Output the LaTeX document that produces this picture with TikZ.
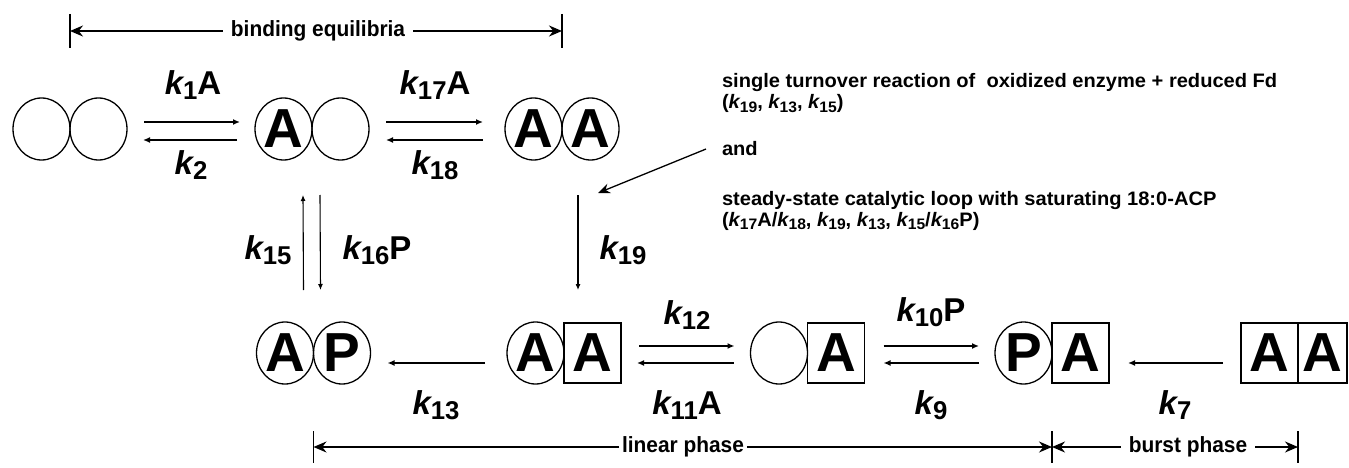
\documentclass[tikz,border=0pt]{standalone}
\usepackage{fontspec}
\setmainfont{Liberation Sans}
\newfontfamily\narrowfont[FakeStretch=0.95]{Liberation Sans}
\newfontfamily\notefont[FakeStretch=1.03]{Liberation Sans}
\usepackage{graphicx}
\usetikzlibrary{shapes.geometric,arrows.meta,calc}
\newcommand\kk[1]{{\itshape k}\raisebox{-0.3ex}{\scalebox{0.78}{#1}}}
\begin{document}
\begin{tikzpicture}[x=1pt,y=-1pt,
  every node/.style={inner sep=0pt,outer sep=0pt},
  circ/.style={draw,ellipse,line width=1.3pt,minimum width=57pt,minimum height=62pt,font=\fontsize{55}{55}\selectfont\bfseries},
  sqr/.style={draw,rectangle,line width=1.3pt,minimum width=57pt,minimum height=60pt,font=\fontsize{55}{55}\selectfont\bfseries},
  lab/.style={font=\fontsize{33}{33}\selectfont\bfseries},
  note/.style={anchor=base west,font=\notefont\fontsize{19.5}{22}\selectfont\bfseries},
  bartext/.style={font=\narrowfont\fontsize{22}{24}\selectfont\bfseries},
  rxn/.style={line width=1.6pt,-{Latex[length=7pt,width=6pt]}},
  vrxn/.style={line width=1.1pt,-{Latex[length=6pt,width=5pt]}},
  bar/.style={line width=1.3pt},
  barhead/.style={line width=1.3pt,-{Stealth[length=13pt,width=11pt]}},
]
\useasboundingbox (0,0) rectangle (1349,468);
% top row
\node[circ] (E0a) at (41.5,129) {};
\node[circ] (E0b) at (98.5,129) {};
\node[circ] (A1) at (283.5,129) {A};
\node[circ] (E1) at (340.5,129) {};
\node[circ] (A2) at (533.5,129) {A};
\node[circ] (A3) at (590.5,129) {A};
% bottom row
\node[circ] (Ab) at (285,353) {A};
\node[circ] (Pb) at (342,353) {P};
\node[circ] (A4) at (535.5,353) {A};
\node[sqr] (S1) at (592.5,353) {A};
\node[circ] (E5) at (779,353) {};
\node[sqr] (S2) at (836,353) {A};
\node[circ] (P6) at (1023.5,353) {P};
\node[sqr] (S4) at (1080.5,353) {A};
\node[sqr] (S5) at (1269.5,353) {A};
\node[sqr,minimum width=49pt] (S6) at (1322.5,353) {A};
% top reactions
\draw[rxn] ($(E0b.east)+(17,-7)$) -- ($(A1.west)+(-15,-7)$);
\draw[rxn] ($(A1.west)+(-18,11)$) -- ($(E0b.east)+(16,11)$);
\draw[rxn] ($(E1.east)+(17,-7)$) -- ($(A2.west)+(-22,-7)$);
\draw[rxn] ($(A2.west)+(-22,11)$) -- ($(E1.east)+(17,11)$);
\node[lab] (l1) at (193,85) {\kk{1}A};
\node[lab] (l2) at (191,165) {\kk{2}};
\node[lab] (l17) at (435,85) {\kk{17}A};
\node[lab] (l18) at (435,165) {\kk{18}};
% vertical reactions
\draw[vrxn] ($(Pb.west)+(-10,-63)$) -- ($(A1.east)+(-9,66)$);
\draw[vrxn] ($(A1.east)+(8,66)$) -- ($(Pb.west)+(7,-63)$);
\draw[vrxn] ($(A3.west)+(16,66)$) -- ($(A4.east)+(14,-63)$);
\node[lab] (l15) at (268,250) {\kk{15}};
\node[lab] (l16) at (377,250) {\kk{16}P};
\node[lab] (l19) at (623,250) {\kk{19}};
% bottom reactions
\draw[rxn] ($(A4.west)+(-22,10)$) -- ($(Pb.east)+(17,10)$);
\draw[rxn] ($(S1.east)+(18,-7)$) -- ($(E5.west)+(-16,-7)$);
\draw[rxn] ($(E5.west)+(-17,10)$) -- ($(S1.east)+(16,10)$);
\draw[rxn] ($(S2.east)+(19,-7)$) -- ($(P6.west)+(-16,-7)$);
\draw[rxn] ($(P6.west)+(-16,10)$) -- ($(S2.east)+(19,10)$);
\draw[rxn] ($(S5.west)+(-18,10)$) -- ($(S4.east)+(19,10)$);
\node[lab] (l13) at (436,405) {\kk{13}};
\node[lab] (l12) at (687,315) {\kk{12}};
\node[lab] (l11) at (687,405) {\kk{11}A};
\node[lab] (l10) at (931,312) {\kk{10}P};
\node[lab] (l9) at (931,405) {\kk{9}};
\node[lab] (l7) at (1175,405) {\kk{7}};
% annotation
\node[note] (n1) at (722,88) {single turnover reaction of \ oxidized enzyme + reduced Fd};
\node[note] (n2) at (722,109) {(\kk{19}, \kk{13}, \kk{15})};
\node[note] (n3) at (722,156) {and};
\node[note] (n4) at (722,205) {steady-state catalytic loop with saturating 18:0-ACP};
\node[note] (n5) at (722,226) {(\kk{17}A/\kk{18}, \kk{19}, \kk{13}, \kk{15}/\kk{16}P)};
\coordinate (tip) at (598,193);
\draw[line width=1.3pt,-{Stealth[length=12pt,width=10pt]}] ($(n3.west)+(-16,0)$) -- (tip);
% binding equilibria bar
\node[bartext] (bt) at (318,31) {binding equilibria};
\draw[bar] ($(E0a.east |- bt)+(0,-17)$) -- ($(E0a.east |- bt)+(0,17)$);
\draw[bar] ($(A2.east |- bt)+(0,-17)$) -- ($(A2.east |- bt)+(0,17)$);
\draw[barhead] ($(bt.west)+(-8,0)$) -- (E0a.east |- bt);
\draw[barhead] ($(bt.east)+(8,0)$) -- (A2.east |- bt);
% linear / burst bars
\node[bartext] (lt) at (683,447) {linear phase};
\node[bartext] (bpt) at (1188,447) {burst phase};
\draw[bar] ($(Ab.east |- lt)+(0,-16)$) -- ($(Ab.east |- lt)+(0,16)$);
\draw[bar] ($(P6.east |- lt)+(0,-16)$) -- ($(P6.east |- lt)+(0,16)$);
\draw[bar] ($(S5.east |- lt)+(0,-16)$) -- ($(S5.east |- lt)+(0,16)$);
\draw[barhead] ($(lt.west)+(-3,0)$) -- (Ab.east |- lt);
\draw[barhead] ($(lt.east)+(3,0)$) -- (P6.east |- lt);
\draw[barhead] ($(bpt.west)+(-8,0)$) -- (P6.east |- bpt);
\draw[barhead] ($(bpt.east)+(8,0)$) -- (S5.east |- bpt);
\end{tikzpicture}
\end{document}
